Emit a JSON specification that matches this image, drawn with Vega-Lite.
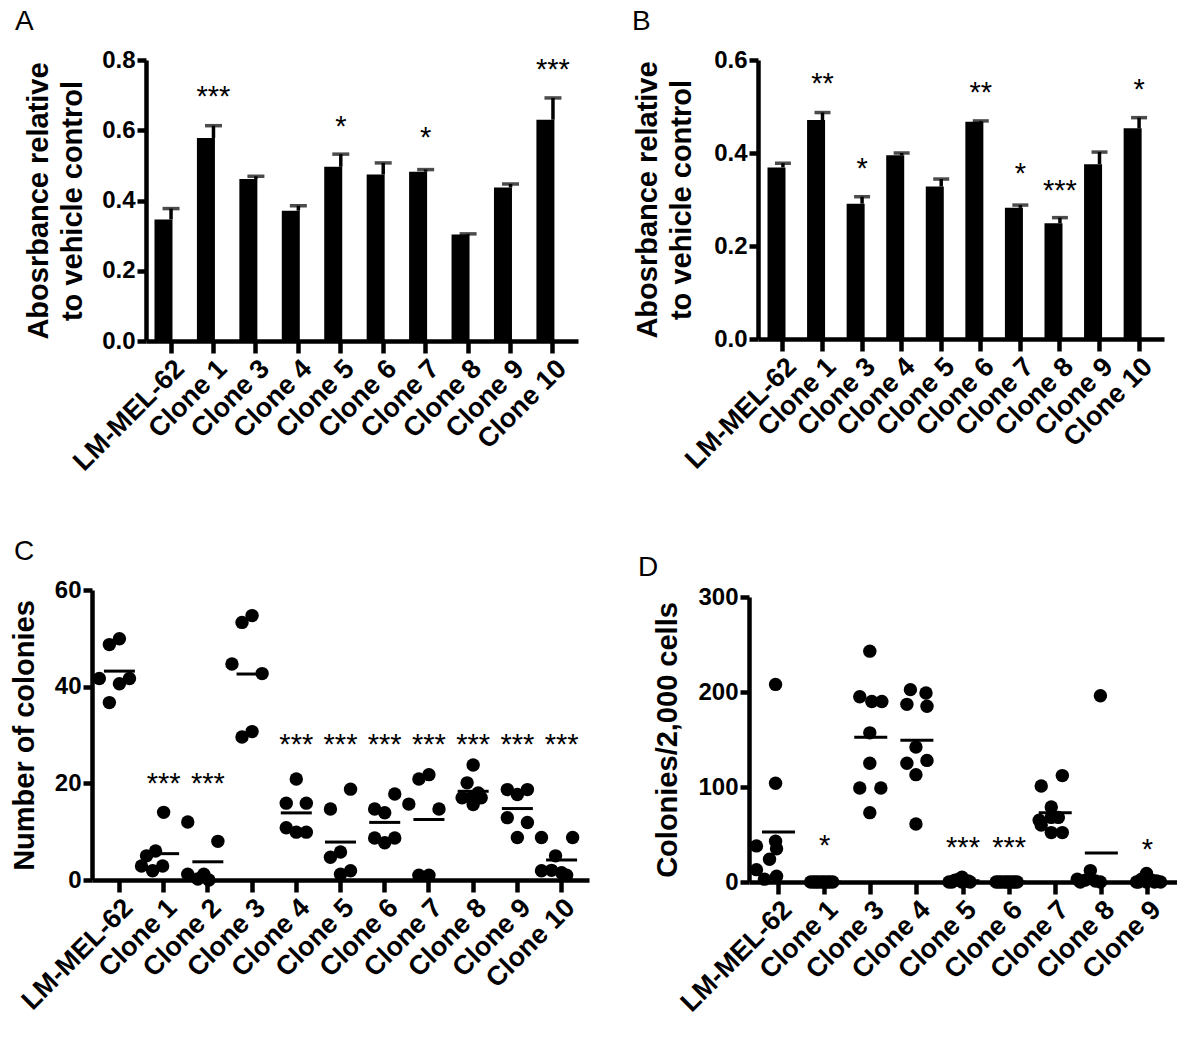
{
  "$schema": "https://vega.github.io/schema/vega-lite/v6.json",
  "padding": {"left": 10, "top": 8, "right": 0, "bottom": 0},
  "background": "white",
  "config": {
    "font": "Liberation Sans",
    "view": {"stroke": null},
    "axis": {"domainColor": "black", "domainWidth": 4.5, "tickColor": "black", "tickWidth": 4.5, "labelColor": "black", "labelFont": "Liberation Sans", "labelFontWeight": "bold", "labelFontSize": 24, "titleColor": "black", "titleFont": "Liberation Sans", "titleFontWeight": "bold", "titleFontSize": 29, "grid": false},
    "axisX": {"tickSize": 12, "labelAngle": -45, "labelPadding": 2, "labelOverlap": false, "labelFontSize": 27, "title": null},
    "axisY": {"tickSize": 9, "labelPadding": 2},
    "title": {"font": "Liberation Sans", "fontSize": 28, "fontWeight": "normal", "anchor": "start", "frame": "group", "color": "black", "offset": 12}
  },
  "datasets": {
    "a": [
      {"g": "LM-MEL-62", "v": 0.346, "hi": 0.377},
      {"g": "Clone 1", "v": 0.578, "hi": 0.613},
      {"g": "Clone 3", "v": 0.461, "hi": 0.469},
      {"g": "Clone 4", "v": 0.371, "hi": 0.385},
      {"g": "Clone 5", "v": 0.496, "hi": 0.532},
      {"g": "Clone 6", "v": 0.474, "hi": 0.507},
      {"g": "Clone 7", "v": 0.482, "hi": 0.488},
      {"g": "Clone 8", "v": 0.303, "hi": 0.305},
      {"g": "Clone 9", "v": 0.437, "hi": 0.447},
      {"g": "Clone 10", "v": 0.630, "hi": 0.692}
    ],
    "aSig": [
      {"g": "Clone 1", "y": 0.715, "sig": "***"},
      {"g": "Clone 5", "y": 0.630, "sig": "*"},
      {"g": "Clone 7", "y": 0.597, "sig": "*"},
      {"g": "Clone 10", "y": 0.791, "sig": "***"}
    ],
    "b": [
      {"g": "LM-MEL-62", "v": 0.369, "hi": 0.378},
      {"g": "Clone 1", "v": 0.471, "hi": 0.487},
      {"g": "Clone 3", "v": 0.291, "hi": 0.306},
      {"g": "Clone 4", "v": 0.395, "hi": 0.400},
      {"g": "Clone 5", "v": 0.328, "hi": 0.344},
      {"g": "Clone 6", "v": 0.467, "hi": 0.469},
      {"g": "Clone 7", "v": 0.282, "hi": 0.288},
      {"g": "Clone 8", "v": 0.249, "hi": 0.261},
      {"g": "Clone 9", "v": 0.376, "hi": 0.402},
      {"g": "Clone 10", "v": 0.453, "hi": 0.476}
    ],
    "bSig": [
      {"g": "Clone 1", "y": 0.564, "sig": "**"},
      {"g": "Clone 3", "y": 0.381, "sig": "*"},
      {"g": "Clone 6", "y": 0.545, "sig": "**"},
      {"g": "Clone 7", "y": 0.370, "sig": "*"},
      {"g": "Clone 8", "y": 0.334, "sig": "***"},
      {"g": "Clone 10", "y": 0.550, "sig": "*"}
    ],
    "c": [
      {"g": "LM-MEL-62", "v": 41.7, "s": -2}, {"g": "LM-MEL-62", "v": 48.7, "s": -1}, {"g": "LM-MEL-62", "v": 49.9, "s": 0}, {"g": "LM-MEL-62", "v": 36.7, "s": -1}, {"g": "LM-MEL-62", "v": 40.6, "s": 0}, {"g": "LM-MEL-62", "v": 41.7, "s": 1},
      {"g": "Clone 1", "v": 14, "s": 0}, {"g": "Clone 1", "v": 6, "s": -0.8}, {"g": "Clone 1", "v": 5, "s": -1.7}, {"g": "Clone 1", "v": 2.9, "s": -2.2}, {"g": "Clone 1", "v": 2.9, "s": -0.1}, {"g": "Clone 1", "v": 1.9, "s": -1.1},
      {"g": "Clone 2", "v": 12, "s": -2}, {"g": "Clone 2", "v": 8, "s": 1}, {"g": "Clone 2", "v": 1.2, "s": -2}, {"g": "Clone 2", "v": 0.2, "s": -1}, {"g": "Clone 2", "v": 1.2, "s": -0.4}, {"g": "Clone 2", "v": 0, "s": 0.1},
      {"g": "Clone 3", "v": 44.7, "s": -2}, {"g": "Clone 3", "v": 53.3, "s": -1}, {"g": "Clone 3", "v": 54.7, "s": 0}, {"g": "Clone 3", "v": 42.7, "s": 1}, {"g": "Clone 3", "v": 29.6, "s": -1}, {"g": "Clone 3", "v": 30.7, "s": 0},
      {"g": "Clone 4", "v": 20.9, "s": 0}, {"g": "Clone 4", "v": 15.9, "s": -1}, {"g": "Clone 4", "v": 15.9, "s": 1}, {"g": "Clone 4", "v": 10.8, "s": -1}, {"g": "Clone 4", "v": 9.9, "s": 0}, {"g": "Clone 4", "v": 9.9, "s": 1},
      {"g": "Clone 5", "v": 14.7, "s": -1}, {"g": "Clone 5", "v": 18.8, "s": 1}, {"g": "Clone 5", "v": 4.7, "s": -1}, {"g": "Clone 5", "v": 5.8, "s": 0}, {"g": "Clone 5", "v": 1.2, "s": 0}, {"g": "Clone 5", "v": 1.9, "s": 1},
      {"g": "Clone 6", "v": 14.7, "s": -1}, {"g": "Clone 6", "v": 13.9, "s": 0}, {"g": "Clone 6", "v": 17.8, "s": 1}, {"g": "Clone 6", "v": 8.7, "s": -1}, {"g": "Clone 6", "v": 7.7, "s": 0}, {"g": "Clone 6", "v": 8.7, "s": 1},
      {"g": "Clone 7", "v": 15.7, "s": -2}, {"g": "Clone 7", "v": 20.9, "s": -1}, {"g": "Clone 7", "v": 21.8, "s": 0}, {"g": "Clone 7", "v": 14.7, "s": 1}, {"g": "Clone 7", "v": 1.0, "s": -1}, {"g": "Clone 7", "v": 1.0, "s": 0},
      {"g": "Clone 8", "v": 23.8, "s": 0}, {"g": "Clone 8", "v": 20.1, "s": -0.6}, {"g": "Clone 8", "v": 17, "s": -1.1}, {"g": "Clone 8", "v": 17, "s": -0.2}, {"g": "Clone 8", "v": 17, "s": 0.8}, {"g": "Clone 8", "v": 15.6, "s": 0}, {"g": "Clone 8", "v": 18, "s": 0.5},
      {"g": "Clone 9", "v": 18.7, "s": -1}, {"g": "Clone 9", "v": 17.7, "s": 0}, {"g": "Clone 9", "v": 18.7, "s": 1}, {"g": "Clone 9", "v": 12.9, "s": -1}, {"g": "Clone 9", "v": 11.9, "s": 1}, {"g": "Clone 9", "v": 8.8, "s": 0},
      {"g": "Clone 10", "v": 8.8, "s": -2}, {"g": "Clone 10", "v": 8.8, "s": 1.1}, {"g": "Clone 10", "v": 5, "s": -0.6}, {"g": "Clone 10", "v": 1.9, "s": -2}, {"g": "Clone 10", "v": 2, "s": -1}, {"g": "Clone 10", "v": 1.5, "s": 0}, {"g": "Clone 10", "v": 1, "s": 0.5}
    ],
    "cSig": [
      {"g": "Clone 1", "y": 21.4, "sig": "***"}, {"g": "Clone 2", "y": 21.4, "sig": "***"},
      {"g": "Clone 4", "y": 29.3, "sig": "***"}, {"g": "Clone 5", "y": 29.3, "sig": "***"}, {"g": "Clone 6", "y": 29.3, "sig": "***"}, {"g": "Clone 7", "y": 29.3, "sig": "***"},
      {"g": "Clone 8", "y": 29.3, "sig": "***"}, {"g": "Clone 9", "y": 29.3, "sig": "***"}, {"g": "Clone 10", "y": 29.3, "sig": "***"}
    ],
    "d": [
      {"g": "LM-MEL-62", "v": 208, "s": -0.2}, {"g": "LM-MEL-62", "v": 104, "s": -0.2}, {"g": "LM-MEL-62", "v": 43, "s": -0.2}, {"g": "LM-MEL-62", "v": 35, "s": -0.1}, {"g": "LM-MEL-62", "v": 24, "s": -0.8}, {"g": "LM-MEL-62", "v": 38, "s": -2.1}, {"g": "LM-MEL-62", "v": 13, "s": -2.1}, {"g": "LM-MEL-62", "v": 3, "s": -1.3}, {"g": "LM-MEL-62", "v": 6, "s": -0.1},
      {"g": "Clone 1", "v": 0, "s": -1.3}, {"g": "Clone 1", "v": 0, "s": -1.0}, {"g": "Clone 1", "v": 0, "s": -0.75}, {"g": "Clone 1", "v": 0, "s": -0.5}, {"g": "Clone 1", "v": 0, "s": -0.2}, {"g": "Clone 1", "v": 0, "s": 0.05}, {"g": "Clone 1", "v": 0, "s": 0.35}, {"g": "Clone 1", "v": 0, "s": 0.6}, {"g": "Clone 1", "v": 0, "s": 0.9},
      {"g": "Clone 3", "v": 195, "s": -1}, {"g": "Clone 3", "v": 243, "s": 0}, {"g": "Clone 3", "v": 190, "s": 0.2}, {"g": "Clone 3", "v": 190, "s": 1.2}, {"g": "Clone 3", "v": 157, "s": 0}, {"g": "Clone 3", "v": 125, "s": 0}, {"g": "Clone 3", "v": 99, "s": -1}, {"g": "Clone 3", "v": 99, "s": 1.1}, {"g": "Clone 3", "v": 73, "s": 0},
      {"g": "Clone 4", "v": 202.5, "s": -0.55}, {"g": "Clone 4", "v": 199, "s": 1}, {"g": "Clone 4", "v": 187, "s": -0.9}, {"g": "Clone 4", "v": 185, "s": 1.1}, {"g": "Clone 4", "v": 142, "s": 0}, {"g": "Clone 4", "v": 125, "s": -0.9}, {"g": "Clone 4", "v": 128, "s": 1.1}, {"g": "Clone 4", "v": 113, "s": 0}, {"g": "Clone 4", "v": 61, "s": 0},
      {"g": "Clone 5", "v": 5, "s": 0}, {"g": "Clone 5", "v": 2, "s": -0.7}, {"g": "Clone 5", "v": 1, "s": 0.6}, {"g": "Clone 5", "v": 0, "s": -1.3}, {"g": "Clone 5", "v": 0, "s": 0.8}, {"g": "Clone 5", "v": 0, "s": 0}, {"g": "Clone 5", "v": 3, "s": -0.3}, {"g": "Clone 5", "v": 1, "s": 0.3}, {"g": "Clone 5", "v": 0, "s": -1},
      {"g": "Clone 6", "v": 0, "s": -1.2}, {"g": "Clone 6", "v": 0, "s": -0.95}, {"g": "Clone 6", "v": 0, "s": -0.7}, {"g": "Clone 6", "v": 0, "s": -0.4}, {"g": "Clone 6", "v": 0, "s": -0.15}, {"g": "Clone 6", "v": 0, "s": 0.1}, {"g": "Clone 6", "v": 0, "s": 0.4}, {"g": "Clone 6", "v": 0, "s": 0.65}, {"g": "Clone 6", "v": 0, "s": 0.9},
      {"g": "Clone 7", "v": 101, "s": -1.3}, {"g": "Clone 7", "v": 112, "s": 0.8}, {"g": "Clone 7", "v": 79, "s": -0.3}, {"g": "Clone 7", "v": 60, "s": -1.3}, {"g": "Clone 7", "v": 68, "s": -0.3}, {"g": "Clone 7", "v": 68, "s": 0.4}, {"g": "Clone 7", "v": 52, "s": -0.3}, {"g": "Clone 7", "v": 52, "s": 0.8}, {"g": "Clone 7", "v": 65, "s": -1.5},
      {"g": "Clone 8", "v": 196, "s": 0}, {"g": "Clone 8", "v": 12, "s": -1}, {"g": "Clone 8", "v": 3, "s": -2.3}, {"g": "Clone 8", "v": 2, "s": -1.5}, {"g": "Clone 8", "v": 1, "s": -0.5}, {"g": "Clone 8", "v": 0, "s": 0}, {"g": "Clone 8", "v": 0, "s": -2},
      {"g": "Clone 9", "v": 9, "s": 0}, {"g": "Clone 9", "v": 3, "s": -0.5}, {"g": "Clone 9", "v": 2, "s": 0.5}, {"g": "Clone 9", "v": 1, "s": 1}, {"g": "Clone 9", "v": 0, "s": -1}, {"g": "Clone 9", "v": 0, "s": 1.4}, {"g": "Clone 9", "v": 0, "s": 0}, {"g": "Clone 9", "v": 0, "s": -0.8}, {"g": "Clone 9", "v": 0, "s": 0.8}
    ],
    "dSig": [
      {"g": "Clone 1", "y": 45.6, "sig": "*"}, {"g": "Clone 5", "y": 42.8, "sig": "***"}, {"g": "Clone 6", "y": 42.8, "sig": "***"}, {"g": "Clone 9", "y": 41, "sig": "*"}
    ]
  },
  "columns": 2,
  "align": "each",
  "bounds": "full",
  "spacing": {"row": 62, "column": 43},
  "concat": [
    {
      "width": 486, "height": 281,
      "title": {"text": "A", "dx": -77},
      "encoding": {
        "x": {"field": "g", "type": "nominal", "scale": {"domain": ["LM-MEL-62", "Clone 1", "Clone 3", "Clone 4", "Clone 5", "Clone 6", "Clone 7", "Clone 8", "Clone 9", "Clone 10"], "range": [54, 486], "paddingInner": 0.22, "paddingOuter": 0.2}, "axis": {"title": null}}
      },
      "layer": [
        {"data": {"name": "a"}, "mark": {"type": "bar", "color": "black"},
         "encoding": {"y": {"field": "v", "type": "quantitative", "scale": {"domain": [0, 0.8]}, "axis": {"values": [0, 0.2, 0.4, 0.6, 0.8], "format": ".1f", "offset": -54, "title": ["Abosrbance relative", "to vehicle control"], "titlePadding": 14, "titleLineHeight": 34}}}},
        {"data": {"name": "a"}, "mark": {"type": "rule", "color": "black", "strokeWidth": 3.5},
         "encoding": {"y": {"field": "v", "type": "quantitative"}, "y2": {"field": "hi"}}},
        {"data": {"name": "a"}, "mark": {"type": "tick", "color": "black", "thickness": 3.5, "size": 17},
         "encoding": {"y": {"field": "hi", "type": "quantitative"}}},
        {"data": {"name": "aSig"}, "mark": {"type": "text", "font": "Liberation Sans", "fontSize": 29, "baseline": "alphabetic", "dy": 16, "color": "black"},
         "encoding": {"y": {"field": "y", "type": "quantitative"}, "text": {"field": "sig"}}}
      ]
    },
    {
      "width": 415, "height": 279,
      "title": {"text": "B", "dx": -117},
      "encoding": {
        "x": {"field": "g", "type": "nominal", "scale": {"domain": ["LM-MEL-62", "Clone 1", "Clone 3", "Clone 4", "Clone 5", "Clone 6", "Clone 7", "Clone 8", "Clone 9", "Clone 10"], "range": [9, 415], "paddingInner": 0.22, "paddingOuter": 0.24}, "axis": {"title": null}}
      },
      "layer": [
        {"data": {"name": "b"}, "mark": {"type": "bar", "color": "black"},
         "encoding": {"y": {"field": "v", "type": "quantitative", "scale": {"domain": [0, 0.6]}, "axis": {"values": [0, 0.2, 0.4, 0.6], "format": ".1f", "offset": -9, "title": ["Abosrbance relative", "to vehicle control"], "titlePadding": 17, "titleLineHeight": 34}}}},
        {"data": {"name": "b"}, "mark": {"type": "rule", "color": "black", "strokeWidth": 3.5},
         "encoding": {"y": {"field": "v", "type": "quantitative"}, "y2": {"field": "hi"}}},
        {"data": {"name": "b"}, "mark": {"type": "tick", "color": "black", "thickness": 3.5, "size": 16},
         "encoding": {"y": {"field": "hi", "type": "quantitative"}}},
        {"data": {"name": "bSig"}, "mark": {"type": "text", "font": "Liberation Sans", "fontSize": 29, "baseline": "alphabetic", "dy": 16, "color": "black"},
         "encoding": {"y": {"field": "y", "type": "quantitative"}, "text": {"field": "sig"}}}
      ]
    },
    {
      "width": 497, "height": 290,
      "title": {"text": "C", "dx": -78},
      "encoding": {
        "x": {"field": "g", "type": "nominal", "scale": {"type": "band", "domain": ["LM-MEL-62", "Clone 1", "Clone 2", "Clone 3", "Clone 4", "Clone 5", "Clone 6", "Clone 7", "Clone 8", "Clone 9", "Clone 10"], "paddingInner": 0, "paddingOuter": 0.12}, "axis": {"title": null}}
      },
      "layer": [
        {"data": {"name": "c"}, "mark": {"type": "point", "filled": true, "size": 180, "color": "black", "opacity": 1},
         "encoding": {"xOffset": {"field": "s", "type": "quantitative", "scale": {"domain": [-2.1, 2.1]}},
                      "y": {"field": "v", "type": "quantitative", "scale": {"domain": [0, 60]}, "axis": {"values": [0, 20, 40, 60], "title": "Number of colonies", "titlePadding": 15}}}},
        {"data": {"name": "c"}, "mark": {"type": "tick", "color": "black", "thickness": 3, "size": 31},
         "encoding": {"y": {"aggregate": "mean", "field": "v", "type": "quantitative"}}},
        {"data": {"name": "cSig"}, "mark": {"type": "text", "font": "Liberation Sans", "fontSize": 29, "baseline": "alphabetic", "dy": 16, "color": "black"},
         "encoding": {"y": {"field": "y", "type": "quantitative"}, "text": {"field": "sig"}}}
      ]
    },
    {
      "width": 428, "height": 292,
      "title": {"text": "D", "dx": -111, "dy": 9},
      "encoding": {
        "x": {"field": "g", "type": "nominal", "scale": {"type": "band", "domain": ["LM-MEL-62", "Clone 1", "Clone 3", "Clone 4", "Clone 5", "Clone 6", "Clone 7", "Clone 8", "Clone 9"], "paddingInner": 0, "paddingOuter": 0.14}, "axis": {"title": null}}
      },
      "layer": [
        {"data": {"name": "d"}, "mark": {"type": "point", "filled": true, "size": 180, "color": "black", "opacity": 1},
         "encoding": {"xOffset": {"field": "s", "type": "quantitative", "scale": {"domain": [-2.2, 2.2]}},
                      "y": {"field": "v", "type": "quantitative", "scale": {"domain": [0, 300], "range": [292, 7]}, "axis": {"values": [0, 100, 200, 300], "title": "Colonies/2,000 cells", "titlePadding": 15}}}},
        {"data": {"name": "d"}, "mark": {"type": "tick", "color": "black", "thickness": 3, "size": 33},
         "encoding": {"y": {"aggregate": "mean", "field": "v", "type": "quantitative"}}},
        {"data": {"name": "dSig"}, "mark": {"type": "text", "font": "Liberation Sans", "fontSize": 29, "baseline": "alphabetic", "dy": 16, "color": "black"},
         "encoding": {"y": {"field": "y", "type": "quantitative"}, "text": {"field": "sig"}}}
      ]
    }
  ]
}
